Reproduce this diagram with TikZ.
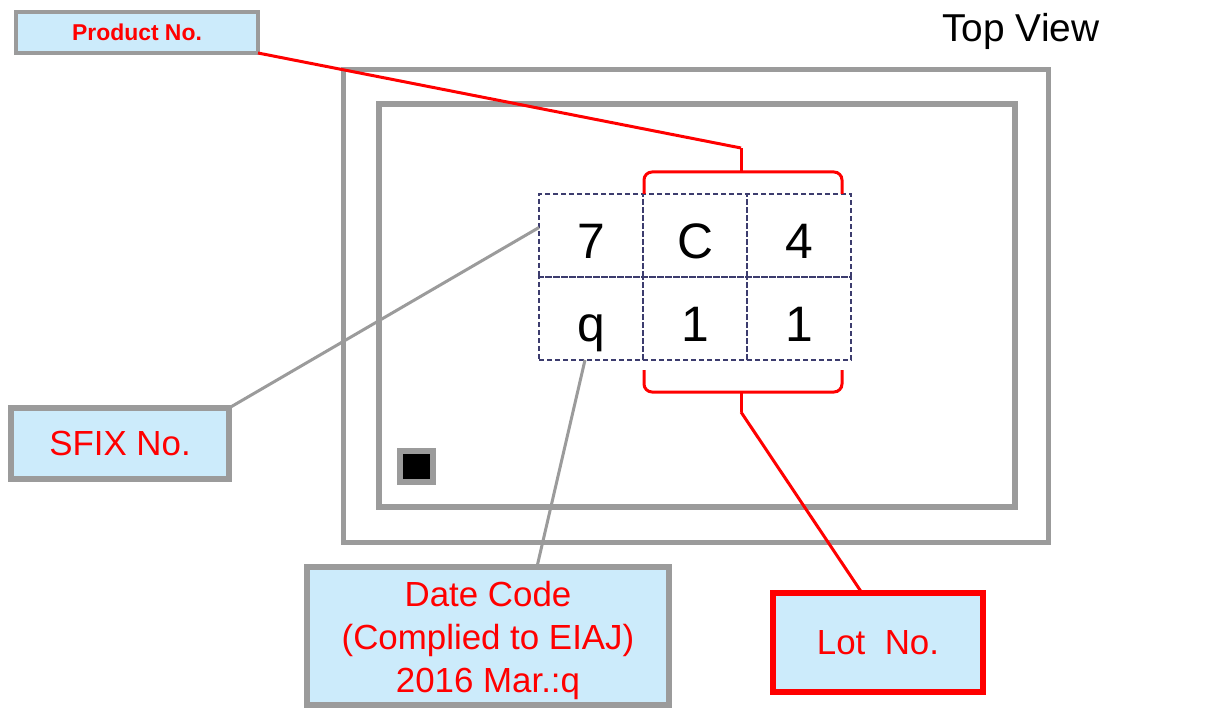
\documentclass[tikz,border=0pt]{standalone}
\usepackage{fontspec}
\setmainfont{Liberation Sans}
\usepackage{xcolor}
\usepackage{tikz}
\usetikzlibrary{positioning}
\definecolor{boxblue}{HTML}{CCEBFB}
\definecolor{pkggray}{HTML}{9B9B9B}
\definecolor{cellnavy}{HTML}{3C3C6E}
\tikzset{
    tagbox/.style={draw=pkggray, fill=boxblue, text=red, align=center, inner sep=0pt, outer sep=0pt},
    cell/.style={draw=cellnavy, dash pattern=on 5bp off 3bp, line width=1.2bp, minimum width=104bp,
        minimum height=83bp, text height=50bp, text depth=5bp,
        inner sep=0pt, outer sep=0pt, font=\fontsize{50}{50}\selectfont},
    greyline/.style={draw=pkggray, line width=3bp},
    redline/.style={draw=red, line width=3bp}
}
\begin{document}
\begin{tikzpicture}[x=1bp, y=-1bp]
    \useasboundingbox (0,0) rectangle (1224,708);

    % package outline
    \draw[pkggray, line width=5bp] (343.5,69.5) rectangle (1048.5,542.5);
    \draw[pkggray, line width=6bp] (379,104) rectangle (1015,507);
    \draw[pkggray, line width=6bp, fill=black] (400,451) rectangle (433,482);
    \node (topview) at (1021,31) {\fontsize{39}{39}\selectfont Top View};

    % marking grid
    \node[cell] (r1c1) at (591,235.5) {7};
    \node[cell, right=0pt of r1c1] (r1c2) {C};
    \node[cell, right=0pt of r1c2] (r1c3) {4};
    \node[cell, below=0pt of r1c1] (r2c1) {q};
    \node[cell, below=0pt of r1c2] (r2c2) {1};
    \node[cell, below=0pt of r1c3] (r2c3) {1};

    % braces
    \draw[redline, rounded corners=8bp] (644,194) -- (644,172) -- (842,172) -- (842,194);
    \draw[redline] (741,172) -- (741,148) coordinate (toptip);
    \draw[redline, rounded corners=8bp] (644,370) -- (644,392) -- (842,392) -- (842,370);
    \draw[redline] (741,392) -- (741,412) coordinate (bottip);

    % labels
    \node[tagbox, line width=4bp, minimum width=242bp, minimum height=41bp,
        font=\fontsize{23}{23}\selectfont\bfseries] (prod) at (137,32.5) {Product No.};
    \node[tagbox, line width=6bp, minimum width=218bp, minimum height=71bp,
        font=\fontsize{35}{35}\selectfont] (sfix) at (120,443.5) {SFIX No.};
    \node[tagbox, line width=6bp, minimum width=362bp, minimum height=136bp,
        font=\fontsize{35}{43}\selectfont] (date) at (488,636) {\rule{0pt}{40bp}Date Code\\(Complied to EIAJ)\\2016 Mar.:q\strut};
    \node[tagbox, draw=red, line width=6bp, minimum width=210bp, minimum height=99bp,
        font=\fontsize{35}{35}\selectfont] (lot) at (878,642.5) {Lot\ \ No.};

    % connectors
    \draw[redline] (prod.south east) -- (toptip);
    \draw[redline] (bottip) -- ([xshift=-16bp]lot.north);
    \draw[greyline] (sfix.north east) -- ([yshift=8bp]r1c1.west);
    \draw[greyline] ([xshift=-6bp]r2c1.south) -- ([xshift=49bp]date.north);
\end{tikzpicture}
\end{document}
